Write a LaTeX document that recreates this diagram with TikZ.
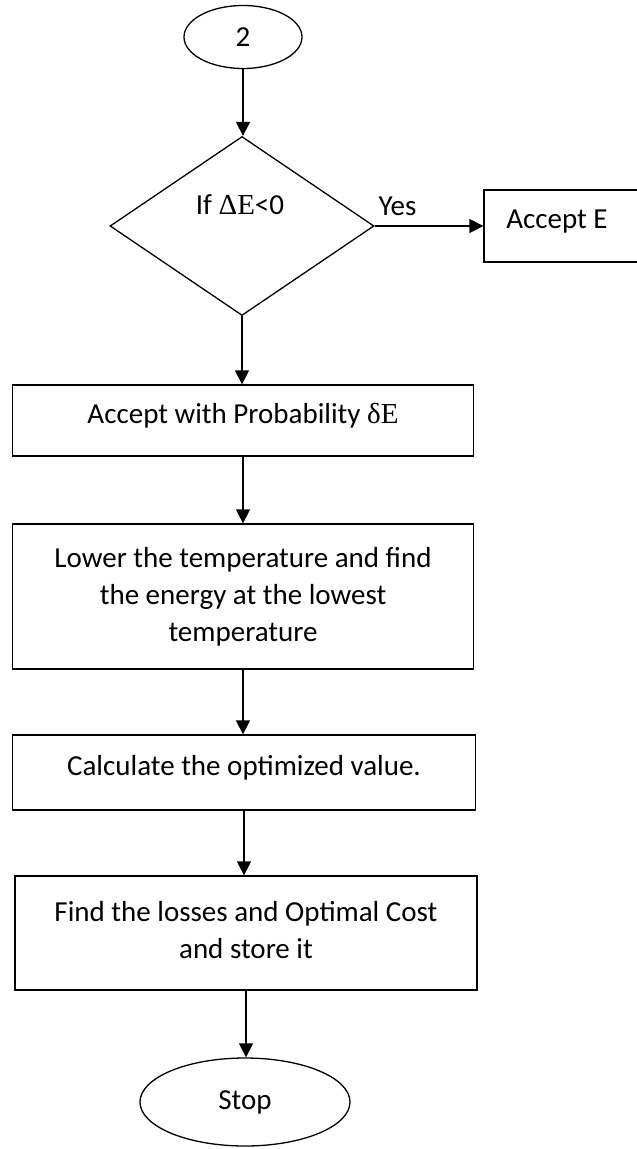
\documentclass[tikz,border=0pt]{standalone}
\usepackage{fontspec}
\setmainfont{Carlito}
\newfontfamily\mserif{Liberation Serif}
\usetikzlibrary{shapes.geometric,arrows.meta}
\begin{document}
\begin{tikzpicture}[x=1pt,y=-1pt,
  every node/.style={font=\fontsize{29}{37}\selectfont},
  line width=1.3pt,
  procbox/.style={draw, rectangle, inner sep=0pt, align=center},
  term/.style={draw, ellipse, inner sep=0pt},
  decide/.style={draw, diamond, inner sep=0pt},
  arr/.style={-{Triangle[length=14pt,width=14pt]}},
  txt/.style={inner sep=0pt}]
\useasboundingbox (0,0) rectangle (637,1149);
\node[term, minimum width=118pt, minimum height=63pt] (start) at (243,37) {2};
\node[decide, minimum width=264pt, minimum height=179pt] (dia) at (242,226) {};
\node[txt] (diatext) at (240,205) {If {\mserif ΔE}<0};
\node[procbox, minimum width=160pt, minimum height=72pt] (acc) at (564,226) {};
\node[txt] (acctext) at (557,222) {Accept E};
\node[procbox, minimum width=461pt, minimum height=71pt] (b1) at (243,420.5) {};
\node[txt] (b1text) at (243,416) {Accept with Probability {\mserif δE}};
\node[procbox, minimum width=461pt, minimum height=145pt] (b2) at (243,596.5) {};
\node[txt, align=center] (b2text) at (243,597) {Lower the temperature and find\\the energy at the lowest\\temperature};
\node[procbox, minimum width=463pt, minimum height=75pt] (b3) at (244,772.5) {};
\node[txt] (b3text) at (244,768) {Calculate the optimized value.};
\node[procbox, minimum width=462pt, minimum height=114pt] (b4) at (246,933) {};
\node[txt, align=center] (b4text) at (246,930) {Find the losses and Optimal Cost\\and store it};
\node[term, minimum width=210pt, minimum height=88pt] (stop) at (245,1102) {Stop};
\draw[arr] (start.south) -- (start.south |- dia.north);
\draw[arr] (dia.east) -- node[txt, above=10pt, pos=0.21] (yes) {Yes} (acc.west);
\draw[arr] (dia.south) -- (dia.south |- b1.north);
\draw[arr] (b1.south) -- (b1.south |- b2.north);
\draw[arr] (b2.south) -- (b2.south |- b3.north);
\draw[arr] (b3.south) -- (b3.south |- b4.north);
\draw[arr] (b4.south) -- (b4.south |- stop.north);
\end{tikzpicture}
\end{document}
